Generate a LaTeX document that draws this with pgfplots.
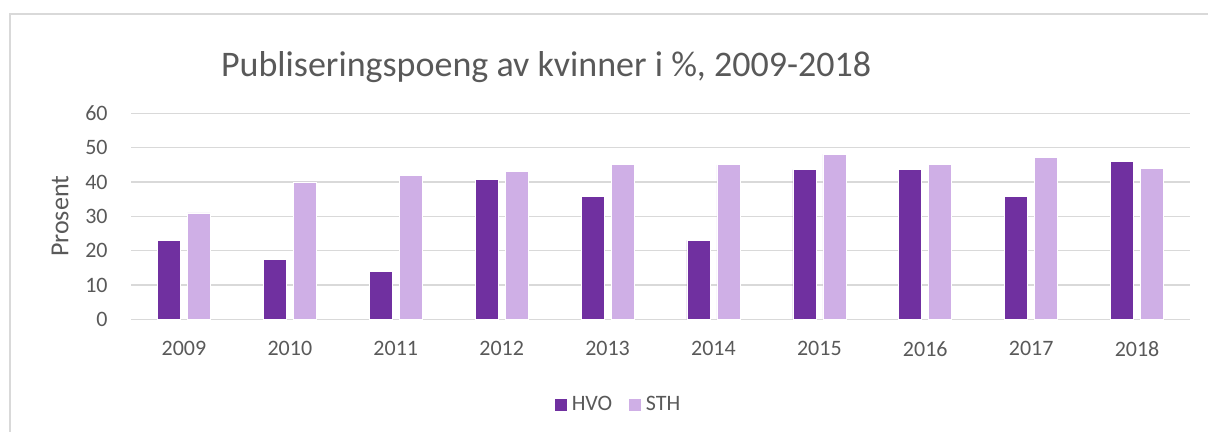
\documentclass[border=0pt]{standalone}
\usepackage{fontspec}
\setmainfont{Carlito}
\usepackage{pgfplots}
\pgfplotsset{compat=1.18}
\definecolor{hvo}{RGB}{112,48,160}
\definecolor{sth}{RGB}{207,175,230}
\definecolor{txt}{RGB}{89,89,89}
\definecolor{gridc}{RGB}{217,217,217}

\begin{document}
\begin{tikzpicture}[x=0.5pt,y=0.5pt]
  \path[use as bounding box] (0,0) rectangle (1208,432);
  \draw[gridc, line width=0.8pt] (10,0) -- (10,418) -- (1208,418);
  \begin{axis}[
      at={(65.5pt,56.35pt)}, anchor=south west,
      scale only axis, width=529.5pt, height=103pt,
      ybar=3.5pt, bar width=11.5pt,
      xmin=-0.5, xmax=9.5, ymin=0, ymax=60,
      xtick={0,...,9},
      xticklabels={2009,2010,2011,2012,2013,2014,2015,2016,2017,2018},
      ytick={0,10,...,60},
      ymajorgrids, grid style={gridc, line width=0.75pt},
      axis line style={draw=none}, major tick length=0pt,
      tick label style={font=\fontsize{11}{13}\selectfont, text=txt},
      /pgf/number format/assume math mode=true,
      yticklabel style={inner sep=0pt, anchor=east, xshift=-11.5pt},
      xticklabel style={inner sep=0pt, anchor=north, yshift=-11pt},
      ylabel={Prosent},
      ylabel style={at={(axis description cs:-0.067,0.5)}, anchor=center,
        font=\fontsize{13}{15}\selectfont, text=txt},
      title={Publiseringspoeng av kvinner i \%, 2009-2018},
      title style={at={(axis description cs:0.392,1)}, anchor=base, yshift=12.5pt,
        font=\fontsize{18}{21}\selectfont, text=txt},
      legend columns=2,
      legend style={at={(axis description cs:0.461,-0.417)}, anchor=center,
        draw=none, fill=none, font=\fontsize{11}{13}\selectfont, text=txt,
        /tikz/every even column/.append style={column sep=6pt}},
      legend image code/.code={\fill[#1] (0pt,-3.2pt) rectangle (6.5pt,3.3pt);},
    ]
    \addplot[fill=hvo, draw=white, line width=0.3pt] coordinates {
      (0,23) (1,17.5) (2,14) (3,40.8) (4,35.9)
      (5,23) (6,43.6) (7,43.6) (8,35.8) (9,46)};
    \addplot[fill=sth, draw=white, line width=0.3pt] coordinates {
      (0,31) (1,40) (2,42) (3,43) (4,45)
      (5,45) (6,48.1) (7,45) (8,47.2) (9,44)};
    \legend{HVO,STH}
  \end{axis}
\end{tikzpicture}
\end{document}
